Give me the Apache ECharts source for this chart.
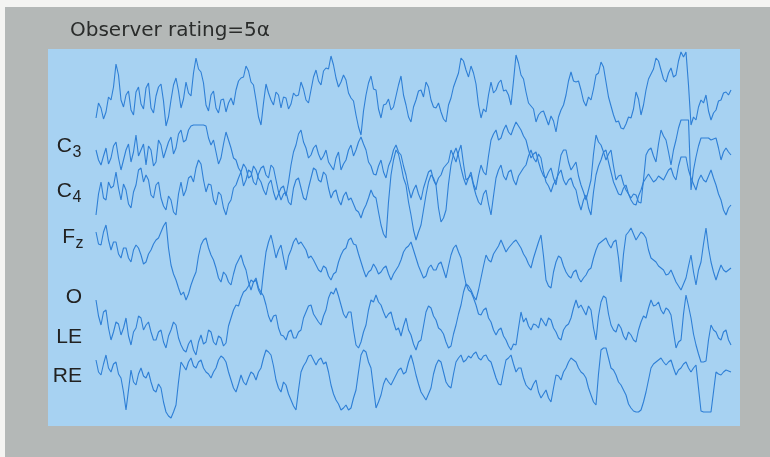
<!DOCTYPE html>
<html><head><meta charset="utf-8">
<script src="https://cdn.jsdelivr.net/npm/echarts@6/dist/echarts.min.js"></script>
<style>html,body{margin:0;padding:0;background:#f4f4f2}#c{width:770px;height:457px}</style>
</head><body><div id="c"></div>
<script>
const title = 'Observer rating=5α';
const labelMain = ['C', 'C', 'F', 'O', 'LE', 'RE'];
const labelSub = ['3', '4', 'z', '', '', ''];

// six EEG traces: amplitude at each whole sample (positive = up) ...
const trace1 = [-23,-13,-17,-5,31,-5,0,-15,3,-9,
 7,-13,-1,11,-31,-5,17,-13,13,-1,
 37,23,-10,0,-13,-5,-17,-3,5,17,
 29,13,-5,-30,11,-5,3,-13,-3,-9,
 -1,13,-5,5,25,10,27,39,17,13,
 15,-3,-20,-40,0,19,5,-23,-9,-15,
 -1,19,-10,-27,-5,5,13,-5,-13,-17,
 -27,-3,15,37,25,29,11,-23,-17,13,
 5,15,5,-10,40,20,3,-11,-27,-17,
 -23,-21,-37,-15,0,23,13,5,-11,-5,
 20,33,13,-11,-27,-33,-29,-23,3,-20,
 5,21,37,25,13,27,20,43,43,-30,
 -25,-5,0,-25,-15,-5,3,5];
const trace2 = [10,-5,12,2,18,-10,10,-2,25,10,
 -5,10,-2,15,10,23,12,30,20,34,
 35,35,34,15,8,2,28,12,0,-12,
 -8,-16,-10,-22,-35,-20,-40,-28,-36,-5,
 15,30,12,5,15,0,10,-6,2,-10,
 0,15,10,23,10,-6,-15,0,-18,0,
 15,5,-15,-38,-25,-40,-20,-10,-25,-15,
 -5,10,-2,15,-20,-12,-30,-5,-15,20,
 30,22,35,25,38,30,20,2,8,-10,
 -18,-8,-25,5,10,-10,-2,-25,-40,-20,
 25,15,0,10,-20,-15,-30,-38,-35,-43,
 5,12,-2,30,20,-5,20,40,40,-30,
 3,22,22,20,22,0,12,5];
const trace3 = [-25,8,-10,2,18,-10,0,-18,5,22,
 15,-5,5,-8,-20,-10,-25,8,0,14,
 22,26,-2,5,-15,-5,-25,-10,5,18,
 10,18,5,22,15,25,10,-10,-2,-15,
 10,2,-10,12,20,8,15,-8,0,-15,
 -2,-8,-20,-28,-15,0,-8,-35,-48,15,
 40,25,5,-25,-50,-35,-5,15,5,-32,
 -20,25,42,22,5,15,-5,-15,0,-25,
 12,25,10,20,5,18,25,40,28,32,
 8,-2,10,20,5,12,0,-20,-5,-25,
 15,30,40,18,2,-5,5,-10,-15,0,
 12,12,10,12,15,22,10,33,33,12,
 0,15,8,20,5,-10,-25,-15];
const trace4 = [30,17,37,12,20,4,14,0,17,7,
 0,12,22,30,40,-3,-18,-33,-38,-23,
 -10,17,24,7,-6,-20,-13,-23,-3,7,
 -8,-28,-18,-33,10,27,4,17,-8,12,
 24,20,12,6,-3,-10,-6,-18,-10,7,
 14,24,17,0,-15,-8,-6,-10,-4,-18,
 -8,2,14,20,4,-10,-14,-3,-8,0,
 -16,7,17,4,-22,-28,-38,-16,7,0,
 12,22,10,17,22,14,4,-6,12,27,
 -18,-26,0,4,-10,-16,-8,-20,-13,-6,
 12,20,24,14,22,-20,27,34,22,30,
 24,4,0,-6,-13,-8,-20,-28,-16,7,
 -23,0,34,0,-18,-3,-10,-6];
const trace5 = [20,-5,10,-20,-2,-15,2,-25,-8,2,
 -5,-12,-20,-10,-28,-10,-5,-25,-32,-20,
 -35,-15,-22,-12,-25,-18,-23,2,15,22,
 30,40,42,28,15,-2,5,-15,-20,-10,
 -18,-10,8,15,2,-5,10,28,32,15,
 2,8,-25,-22,-5,20,25,15,2,8,
 -10,-16,2,-15,-30,-20,8,12,0,-10,
 -22,-26,-5,15,36,28,15,5,12,-2,
 -15,-8,-20,-30,-25,8,2,-10,-5,2,
 -6,0,-12,-20,-6,2,20,15,5,10,
 -20,18,22,-5,-12,-8,-20,-15,-22,-2,
 2,20,15,10,12,5,-28,-20,25,2,
 -25,-42,-41,-5,-12,-20,-10,-25];
const trace6 = [18,3,23,6,16,0,-32,8,-7,10,
 0,-4,-14,-10,-34,-40,-27,16,8,20,
 10,18,6,0,10,22,16,-2,-14,3,
 -7,6,-2,10,28,23,-2,-14,-7,-22,
 -32,6,16,23,13,20,16,-7,-22,-32,
 -27,-30,-12,23,26,10,-30,-17,0,-7,
 3,10,6,23,3,-14,-22,-10,13,16,
 -4,-10,16,23,18,20,26,18,23,16,
 0,-7,18,23,6,10,-7,-12,-2,-20,
 -12,-24,3,-2,10,20,16,6,0,-17,
 -27,28,30,10,3,-7,-17,-30,-34,-32,
 -14,10,16,20,13,18,3,10,16,6,
 13,-33,-34,-34,6,3,8,6];

// ... and the readings half a sample later (fast activity between samples)
const half1 = [-8,-24,-2,8,20,-12,4,-20,8,-14,
 12,-18,8,-6,-22,10,4,-4,2,22,
 26,12,-16,4,-18,-4,-8,-10,14,18,
 24,10,-22,-8,2,-10,0,-2,-14,2,
 0,6,-8,18,14,24,26,30,8,20,
 2,-6,-32,-16,12,6,-14,-10,-4,-12,
 10,0,-22,-12,4,-2,8,-12,-8,-24,
 -10,8,22,34,18,22,-10,-14,0,2,
 12,4,0,14,32,16,-8,-14,-20,-16,
 -30,-26,-22,-10,14,14,14,-6,-2,6,
 22,28,-2,-20,-26,-34,-22,-14,-4,-10,
 16,26,34,16,22,18,34,38,10,-22,
 -12,-8,-16,-18,-6,2,0];
const half2 = [0,4,-4,14,2,0,16,8,4,16,
 14,-6,20,2,18,6,26,18,30,35,
 35,35,22,20,-4,16,20,2,-8,-4,
 -18,-6,-18,-30,-24,-32,-34,-26,-22,8,
 26,18,2,12,6,4,-2,-10,8,-4,
 10,4,18,16,-2,-14,-6,-12,-6,10,
 8,-6,-28,-30,-34,-28,-12,-20,-18,-8,
 -2,4,8,-4,-18,-24,-16,-12,4,26,
 20,30,28,32,34,24,10,6,-2,-16,
 -12,-18,-10,10,-2,-6,-16,-32,-30,6,
 18,8,6,-6,-16,-24,-34,-34,-42,-20,
 10,4,16,24,8,10,32,40,40,-10,
 14,22,22,21,12,8,8];
const half3 = [-4,-8,8,4,2,6,-14,-2,20,8,
 10,-8,8,-16,-6,-22,-4,-6,12,8,
 30,10,6,-10,-2,-18,-14,2,12,4,
 20,8,16,24,12,22,-2,-4,-12,2,
 12,-8,2,22,10,18,2,-2,-10,-6,
 -10,-14,-22,-20,-8,-6,-22,-44,-12,30,
 36,12,-12,-40,-42,-20,8,12,-18,-28,
 6,36,34,12,12,4,-12,-4,-14,-6,
 20,14,18,10,14,22,34,32,36,18,
 4,6,16,10,10,4,-12,-10,-18,-2,
 24,38,28,8,-4,2,-4,-14,-6,8,
 16,8,14,10,20,14,24,33,20,6,
 10,10,14,12,-4,-20,-18];
const half4 = [18,30,22,20,8,14,4,12,14,-2,
 8,18,24,36,14,-12,-26,-30,-32,-16,
 6,22,14,2,-16,-10,-20,-12,2,-2,
 -20,-20,-28,-10,20,16,12,4,6,20,
 18,16,4,2,-8,-4,-14,-12,0,12,
 22,18,8,-8,-10,-2,-12,-6,-12,-12,
 -4,10,16,12,-4,-16,-6,-8,-2,-8,
 -4,14,10,-10,-24,-34,-28,-4,2,8,
 16,16,14,20,18,8,-2,4,20,6,
 -24,-10,6,-4,-14,-10,-16,-16,-8,4,
 18,22,18,20,4,8,30,28,26,28,
 12,2,-4,-8,-12,-14,-24,-22,-4,-10,
 -8,18,14,-10,-10,-8,-8];
const half5 = [4,8,-8,-12,-4,-8,-16,-12,4,-10,
 -2,-20,-12,-22,-16,-2,-18,-30,-24,-30,
 -22,-24,-10,-22,-16,-26,-6,10,14,28,
 34,38,32,24,4,4,-8,-16,-12,-18,
 -12,2,14,6,-2,4,22,26,24,6,
 8,-10,-28,-12,10,18,18,8,6,-2,
 -8,-6,-10,-24,-22,-6,14,4,-8,-14,
 -28,-14,6,28,30,22,6,10,2,-10,
 -10,-16,-26,-24,-8,-2,-6,-4,-8,-2,
 2,-8,-18,-10,-4,12,12,10,14,-8,
 4,24,6,-10,-4,-16,-12,-20,-10,4,
 12,14,18,6,10,-12,-22,6,14,-14,
 -34,-42,-20,-10,-18,-12,-20];
const half6 = [6,14,10,14,4,-14,-12,-4,4,2,
 6,-12,-6,-24,-38,-34,-4,12,16,12,
 16,10,4,6,18,20,6,-10,-6,-4,
 0,4,6,20,26,12,-10,-4,-16,-28,
 -12,12,22,18,18,14,6,-16,-26,-30,
 -32,-20,6,28,16,-10,-24,-6,-4,-2,
 8,4,16,14,-6,-18,-16,4,18,6,
 -8,4,20,16,22,24,20,22,18,8,
 -6,6,20,14,10,0,-10,-6,-14,-16,
 -20,-10,2,6,16,18,10,4,-10,-24,
 4,30,20,8,-4,-12,-26,-33,-34,-24,
 -2,14,18,16,16,10,8,14,10,10,
 -10,-34,-34,-14,4,6,7];

const traces = [trace1, trace2, trace3, trace4, trace5, trace6];
const halves = [half1, half2, half3, half4, half5, half6];
const names = ['C3', 'C4', 'Fz', 'O', 'LE', 'RE'];
const baselines = [95, 160, 190, 262, 320, 378];
const span = 70;

const chart = echarts.init(document.getElementById('c'), null, {renderer: 'canvas'});
const grids = [], xAxes = [], yAxes = [], series = [];
traces.forEach((t, i) => {
  const h = halves[i];
  const data = [];
  t.forEach((v, k) => {
    data.push([k, v]);
    if (k < h.length) data.push([k + 0.5, h[k]]);
  });
  grids.push({left: 96, right: 39, top: baselines[i] - span, height: span * 2, outerBoundsMode: 'none'});
  xAxes.push({type: 'value', gridIndex: i, min: 0, max: t.length - 1, show: false});
  yAxes.push({type: 'value', gridIndex: i, min: -span, max: span, show: false});
  series.push({
    name: names[i], type: 'line', xAxisIndex: i, yAxisIndex: i,
    data: data, showSymbol: false, silent: true,
    lineStyle: {color: '#2e7fd6', width: 1.1}, z: 5
  });
});

const labelY = [146, 191, 237, 297, 337, 376];
const graphics = [
  {type: 'rect', shape: {x: 5, y: 7, width: 765, height: 450}, style: {fill: '#b4b8b7'}, z: -20},
  {type: 'rect', shape: {x: 48, y: 49, width: 692, height: 377}, style: {fill: '#a7d2f2'}, z: -19},
  {type: 'text', x: 70, y: 31, style: {text: title, font: '20px "DejaVu Sans"', fill: '#2a2c2b', verticalAlign: 'middle'}, z: 10}
];
labelMain.forEach((m, i) => {
  const sub = labelSub[i];
  const right = sub ? (sub === 'z' ? 75 : 72) : 82;
  graphics.push({type: 'text', x: right, y: labelY[i], style: {text: m, font: '21px "Liberation Sans"', fill: '#222', align: 'right', verticalAlign: 'middle'}, z: 10});
  if (sub) graphics.push({type: 'text', x: right + 0.5, y: labelY[i] + 7, style: {text: sub, font: '16px "Liberation Sans"', fill: '#222', align: 'left', verticalAlign: 'middle'}, z: 10});
});

chart.setOption({
  animation: false,
  backgroundColor: 'transparent',
  grid: grids, xAxis: xAxes, yAxis: yAxes, series: series,
  graphic: {elements: graphics}
});
</script></body></html>
